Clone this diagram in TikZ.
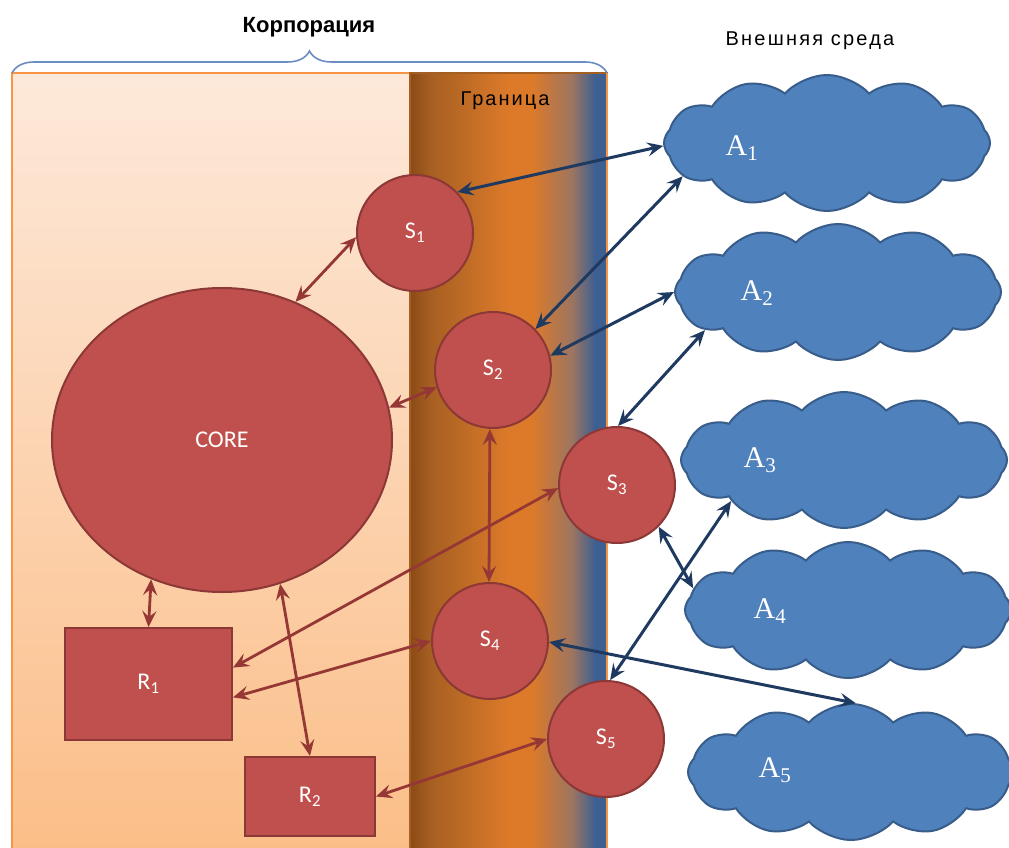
\documentclass[tikz,border=0pt]{standalone}
\usepackage{fontspec}
\setmainfont{Liberation Sans}
\newfontfamily\califont{Carlito}
\newfontfamily\serifont{Liberation Serif}
\usetikzlibrary{arrows.meta,shapes.symbols,shapes.geometric,decorations.pathreplacing}
\definecolor{redfill}{HTML}{C0504D}
\definecolor{redline}{HTML}{8C3836}
\definecolor{redarrow}{HTML}{953735}
\definecolor{bluefill}{HTML}{4F81BD}
\definecolor{blueline}{HTML}{385D8A}
\definecolor{bluearrow}{HTML}{1F3A60}
\definecolor{corptop}{HTML}{FDE9DA}
\definecolor{corpbot}{HTML}{FBBE88}
\definecolor{corpline}{HTML}{F79646}
\definecolor{bracecol}{HTML}{6A8DC2}
\definecolor{bnda}{HTML}{8B4A16}
\definecolor{bndb}{HTML}{A65F22}
\definecolor{bndc}{HTML}{DC7A2A}
\definecolor{bndd}{HTML}{9E7560}
\definecolor{bnde}{HTML}{3D5F92}
\pgfdeclarehorizontalshading{boundary}{100bp}{color(0bp)=(bnda); color(25bp)=(bnda); color(30bp)=(bndb); color(50bp)=(bndc); color(56bp)=(bndc); color(66bp)=(bndd); color(72bp)=(bnde); color(75bp)=(bnde); color(100bp)=(bnde)}
\tikzset{
  unit/.style={circle, fill=redfill, draw=redline, line width=2pt, minimum size=116pt, inner sep=0pt, text=white, font=\califont\fontsize{24}{24}\selectfont},
  res/.style={rectangle, fill=redfill, draw=redline, line width=2pt, inner sep=0pt, text=white, font=\califont\fontsize{24}{24}\selectfont},
  env/.style={cloud, cloud puffs=12, cloud puff arc=95, aspect=2.4, minimum width=326pt, minimum height=136pt, inner sep=0pt, fill=bluefill, draw=blueline, line width=2pt},
  envlbl/.style={text=white, font=\serifont\fontsize{30}{30}\selectfont},
  redlink/.style={{Stealth[length=16pt,width=14pt,inset=6pt]}-{Stealth[length=16pt,width=14pt,inset=6pt]}, draw=redarrow, line width=2.8pt},
  bluelink/.style={{Stealth[length=16pt,width=14pt,inset=6pt]}-{Stealth[length=16pt,width=14pt,inset=6pt]}, draw=bluearrow, line width=3pt}
}
\begin{document}
\begin{tikzpicture}[x=1pt, y=-1pt]
  \useasboundingbox (0,0) rectangle (1009,848);
  \clip (0,0) rectangle (1009,848);
  \fill[white] (0,0) rectangle (1009,848);

  \draw[corpline, line width=1.5pt, top color=corptop, bottom color=corpbot] (12,73) rectangle (607,852);
  \draw[draw=bndb, line width=1.5pt, shading=boundary] (410,73) rectangle (607,852);
  \draw[corpline, line width=2pt] (607,73) -- (607,848);
  \draw[bracecol, line width=1.6pt, decorate, decoration={brace, amplitude=22pt}] (12,73) -- (607,73);

  \node[font=\bfseries\fontsize{22}{22}\selectfont] (corptitle) at (309,27) {Корпорация};
  \node[font=\fontsize{20}{20}\selectfont\addfontfeatures{LetterSpace=10}] (bndtitle) at (505,101) {Граница};
  \node[font=\fontsize{20}{20}\selectfont\addfontfeatures{LetterSpace=11}] (envtitle) at (810,41) {Внешняя среда};

  \node[env] (a1) at (827,143) {};
  \node[env] (a2) at (838,292) {};
  \node[env] (a3) at (844,460) {};
  \node[env] (a4) at (848,610) {};
  \node[env] (a5) at (851,772) {};
  \node[envlbl] (a1t) at (742,148) {A\textsubscript{1}};
  \node[envlbl] (a2t) at (757,293) {A\textsubscript{2}};
  \node[envlbl] (a3t) at (760,460) {A\textsubscript{3}};
  \node[envlbl] (a4t) at (770,611) {A\textsubscript{4}};
  \node[envlbl] (a5t) at (775,770) {A\textsubscript{5}};

  \node[ellipse, fill=redfill, draw=redline, line width=2pt, minimum width=340pt, minimum height=304pt, text=white, font=\califont\fontsize{24}{24}\selectfont] (core) at (222,440) {CORE};
  \node[res, minimum width=167pt, minimum height=112pt] (r1) at (148.5,684) {R\textsubscript{1}};
  \node[res, minimum width=130pt, minimum height=79pt] (r2) at (310,796.5) {R\textsubscript{2}};
  \node[unit] (s1) at (415,233) {S\textsubscript{1}};
  \node[unit] (s2) at (493,370) {S\textsubscript{2}};
  \node[unit] (s3) at (617,485) {S\textsubscript{3}};
  \node[unit] (s4) at (490,641) {S\textsubscript{4}};
  \node[unit] (s5) at (606,739) {S\textsubscript{5}};

  \draw[redlink] (core.62.6) -- (s1.184);
  \draw[redlink] (core.11.6) -- (s2.197);
  \draw[redlink] (core.243.7) -- (r1.north);
  \draw[redlink] (core.292.4) -- (r2.north);
  \draw[redlink] (r1.11.5) -- (s3.183);
  \draw[redlink] (r1.-9) -- (s4.180);
  \draw[redlink] (s2.267) -- (s4.91);
  \draw[redlink] (r2.east) -- (s5.180);

  \draw[bluelink] (s1.44) -- (a1.181);
  \draw[bluelink] (s2.44) -- (a1.193.7);
  \draw[bluelink] (s2.14) -- (a2.180);
  \draw[bluelink] (s3.89) -- (a2.196);
  \draw[bluelink] (s3.315) -- (a4.172.9);
  \draw[bluelink] (s5.86) -- (a3.200);
  \draw[bluelink] (s4.359) -- (a5.86);
\end{tikzpicture}
\end{document}
